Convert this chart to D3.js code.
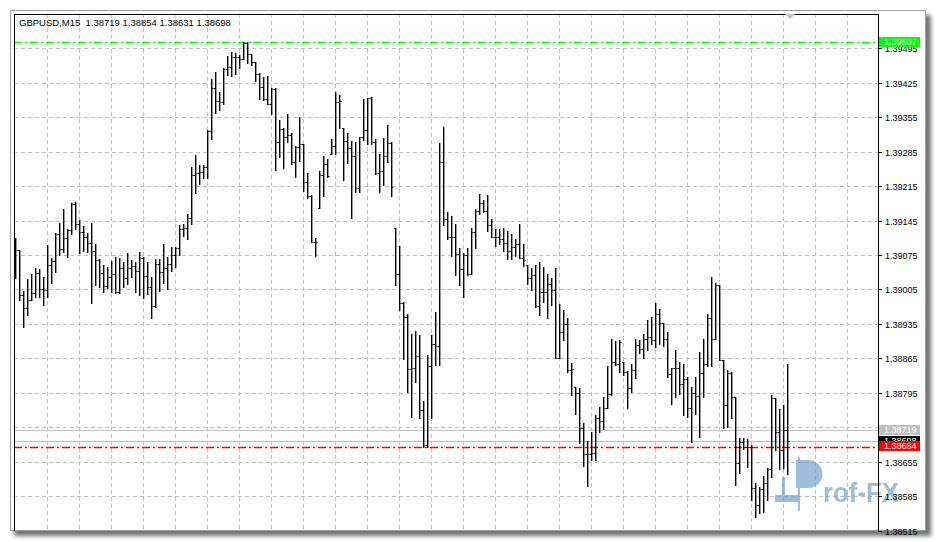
<!DOCTYPE html>
<html><head><meta charset="utf-8">
<script src="https://cdn.jsdelivr.net/npm/d3@7"></script>
<style>body{margin:0;background:#fff;}svg{display:block}text{white-space:pre}</style>
</head><body><svg id="c" width="937" height="542"></svg>
<script>
const titleText = "GBPUSD,M15  1.38719 1.38854 1.38631 1.38698";
const tickValues = [1.38515,1.38585,1.38655,1.38725,1.38795,1.38865,1.38935,1.39005,1.39075,1.39145,1.39215,1.39285,1.39355,1.39425,1.39495];
const levelHigh = 1.39507, levelAsk = 1.38719, levelBid = 1.38698, levelRed = 1.38684;

const open = [1.39050,1.39085,1.38994,1.38967,1.38983,1.38998,1.39038,1.39006,1.39004,1.39055,
1.39063,1.39118,1.39087,1.39109,1.39126,1.39179,1.39138,1.39122,1.39111,1.39099,
1.39083,1.39065,1.39038,1.39012,1.39030,1.39036,1.39000,1.39048,1.39028,1.39048,
1.39052,1.39042,1.39069,1.39032,1.39010,1.38971,1.39057,1.39040,1.39048,1.39057,
1.39075,1.39089,1.39128,1.39130,1.39150,1.39237,1.39241,1.39243,1.39254,1.39327,
1.39414,1.39388,1.39386,1.39453,1.39457,1.39477,1.39477,1.39473,1.39505,1.39483,
1.39467,1.39443,1.39416,1.39392,1.39382,1.39412,1.39305,1.39331,1.39315,1.39319,
1.39264,1.39294,1.39300,1.39223,1.39195,1.39101,1.39170,1.39237,1.39260,1.39280,
1.39296,1.39386,1.39333,1.39307,1.39292,1.39276,1.39211,1.39315,1.39329,1.39394,
1.39305,1.39241,1.39246,1.39276,1.39302,1.39130,1.39036,1.38977,1.38949,1.38843,
1.38845,1.38870,1.38760,1.38689,1.38849,1.38894,1.38890,1.39264,1.39148,1.39111,
1.39111,1.39077,1.39046,1.39075,1.39036,1.39122,1.39164,1.39181,1.39164,1.39136,
1.39111,1.39111,1.39107,1.39099,1.39083,1.39091,1.39097,1.39069,1.39055,1.39028,
1.39034,1.38971,1.39000,1.39000,1.39016,1.39004,1.38866,1.38918,1.38935,1.38841,
1.38807,1.38794,1.38723,1.38671,1.38671,1.38673,1.38744,1.38738,1.38764,1.38792,
1.38857,1.38853,1.38857,1.38837,1.38805,1.38841,1.38892,1.38884,1.38904,1.38908,
1.38902,1.38955,1.38937,1.38904,1.38833,1.38845,1.38845,1.38813,1.38823,1.38764,
1.38794,1.38788,1.38835,1.38853,1.38947,1.38904,1.39014,1.38861,1.38770,1.38835,
1.38786,1.38652,1.38695,1.38685,1.38685,1.38601,1.38567,1.38599,1.38612,1.38640,
1.38784,1.38715,1.38679,1.38719];

const high = [1.39109,1.39085,1.39002,1.39026,1.39036,1.39048,1.39046,1.39030,1.39095,1.39069,
1.39120,1.39140,1.39168,1.39128,1.39181,1.39183,1.39146,1.39134,1.39120,1.39140,
1.39097,1.39067,1.39055,1.39050,1.39063,1.39071,1.39069,1.39061,1.39079,1.39065,
1.39061,1.39081,1.39071,1.39061,1.39030,1.39067,1.39067,1.39097,1.39071,1.39091,
1.39091,1.39136,1.39138,1.39158,1.39254,1.39278,1.39258,1.39258,1.39329,1.39432,
1.39447,1.39406,1.39455,1.39479,1.39487,1.39485,1.39481,1.39507,1.39507,1.39483,
1.39467,1.39445,1.39437,1.39439,1.39414,1.39414,1.39349,1.39333,1.39361,1.39323,
1.39296,1.39355,1.39300,1.39241,1.39197,1.39109,1.39246,1.39276,1.39270,1.39311,
1.39406,1.39400,1.39333,1.39323,1.39307,1.39305,1.39315,1.39392,1.39394,1.39396,
1.39311,1.39280,1.39313,1.39339,1.39305,1.39130,1.39093,1.38979,1.38955,1.38914,
1.38920,1.38912,1.38778,1.38872,1.38912,1.38959,1.39302,1.39335,1.39162,1.39154,
1.39138,1.39089,1.39079,1.39089,1.39130,1.39168,1.39199,1.39187,1.39197,1.39148,
1.39128,1.39128,1.39130,1.39124,1.39118,1.39107,1.39138,1.39097,1.39055,1.39048,
1.39055,1.39061,1.39050,1.39036,1.39028,1.39048,1.38975,1.38963,1.38947,1.38855,
1.38807,1.38805,1.38734,1.38697,1.38715,1.38750,1.38766,1.38786,1.38849,1.38904,
1.38900,1.38902,1.38857,1.38839,1.38853,1.38904,1.38902,1.38914,1.38943,1.38949,
1.38977,1.38965,1.38937,1.38918,1.38845,1.38882,1.38857,1.38853,1.38827,1.38807,
1.38827,1.38878,1.38904,1.38955,1.39030,1.39018,1.39014,1.38861,1.38841,1.38837,
1.38786,1.38703,1.38703,1.38701,1.38689,1.38612,1.38603,1.38626,1.38642,1.38790,
1.38784,1.38762,1.38770,1.38854];

const low = [1.39028,1.38983,1.38929,1.38953,1.38983,1.38990,1.38990,1.38973,1.38990,1.39018,
1.39040,1.39075,1.39081,1.39071,1.39118,1.39128,1.39079,1.39083,1.39081,1.38977,
1.39014,1.39010,1.39000,1.39008,1.39000,1.38998,1.38998,1.39010,1.39016,1.39030,
1.39000,1.38994,1.38987,1.38996,1.38947,1.38970,1.39002,1.39018,1.39006,1.39042,
1.39050,1.39075,1.39113,1.39107,1.39138,1.39201,1.39219,1.39231,1.39231,1.39311,
1.39363,1.39369,1.39382,1.39441,1.39439,1.39443,1.39455,1.39473,1.39465,1.39461,
1.39428,1.39392,1.39390,1.39382,1.39361,1.39248,1.39274,1.39252,1.39305,1.39260,
1.39233,1.39266,1.39205,1.39191,1.39101,1.39073,1.39170,1.39195,1.39233,1.39280,
1.39280,1.39333,1.39227,1.39262,1.39150,1.39203,1.39203,1.39309,1.39300,1.39300,
1.39239,1.39203,1.39217,1.39264,1.39195,1.39014,1.38963,1.38864,1.38797,1.38746,
1.38817,1.38744,1.38685,1.38685,1.38744,1.38851,1.38851,1.39136,1.39107,1.39073,
1.39034,1.39014,1.38990,1.39034,1.39036,1.39089,1.39158,1.39162,1.39124,1.39111,
1.39093,1.39097,1.39083,1.39067,1.39067,1.39073,1.39069,1.39052,1.39016,1.39004,
1.38969,1.38953,1.38979,1.38947,1.38973,1.38866,1.38866,1.38902,1.38837,1.38790,
1.38752,1.38693,1.38646,1.38605,1.38658,1.38658,1.38715,1.38721,1.38764,1.38790,
1.38851,1.38837,1.38831,1.38764,1.38797,1.38825,1.38876,1.38866,1.38882,1.38894,
1.38888,1.38894,1.38890,1.38827,1.38772,1.38786,1.38792,1.38750,1.38746,1.38695,
1.38752,1.38705,1.38786,1.38849,1.38849,1.38904,1.38861,1.38723,1.38725,1.38744,
1.38608,1.38632,1.38681,1.38644,1.38577,1.38543,1.38551,1.38553,1.38577,1.38624,
1.38679,1.38640,1.38642,1.38631];

const close = [1.39085,1.38994,1.38967,1.38983,1.38998,1.39038,1.39006,1.39004,1.39055,1.39063,
1.39118,1.39087,1.39109,1.39126,1.39179,1.39138,1.39122,1.39111,1.39099,1.39083,
1.39065,1.39038,1.39012,1.39030,1.39036,1.39000,1.39048,1.39028,1.39048,1.39052,
1.39042,1.39069,1.39032,1.39010,1.38971,1.39057,1.39040,1.39048,1.39057,1.39075,
1.39089,1.39128,1.39130,1.39150,1.39237,1.39241,1.39243,1.39254,1.39327,1.39414,
1.39388,1.39386,1.39453,1.39457,1.39477,1.39477,1.39473,1.39505,1.39483,1.39467,
1.39443,1.39416,1.39392,1.39382,1.39412,1.39305,1.39331,1.39315,1.39319,1.39264,
1.39294,1.39300,1.39223,1.39195,1.39101,1.39101,1.39237,1.39260,1.39235,1.39296,
1.39386,1.39388,1.39307,1.39292,1.39276,1.39211,1.39315,1.39329,1.39394,1.39305,
1.39241,1.39246,1.39276,1.39302,1.39213,1.39036,1.38977,1.38949,1.38843,1.38845,
1.38870,1.38760,1.38689,1.38849,1.38894,1.38890,1.39264,1.39148,1.39111,1.39111,
1.39077,1.39046,1.39075,1.39036,1.39122,1.39164,1.39181,1.39164,1.39136,1.39111,
1.39111,1.39107,1.39099,1.39083,1.39091,1.39097,1.39069,1.39065,1.39028,1.39034,
1.38971,1.39000,1.39000,1.39016,1.39004,1.38866,1.38918,1.38935,1.38841,1.38843,
1.38794,1.38723,1.38671,1.38671,1.38673,1.38744,1.38738,1.38764,1.38792,1.38857,
1.38853,1.38898,1.38837,1.38805,1.38841,1.38892,1.38884,1.38904,1.38908,1.38902,
1.38955,1.38937,1.38904,1.38833,1.38845,1.38845,1.38813,1.38823,1.38764,1.38794,
1.38788,1.38835,1.38853,1.38947,1.38904,1.39014,1.38861,1.38770,1.38835,1.38786,
1.38652,1.38695,1.38685,1.38685,1.38601,1.38567,1.38599,1.38612,1.38640,1.38784,
1.38715,1.38679,1.38719,1.38698];

const W = 937, H = 542;
const plotL = 14, plotT = 14, plotR = 878, plotB = 531;
const svg = d3.select("#c");
const defs = svg.append("defs");
const f = defs.append("filter").attr("id","sh").attr("x","-5%").attr("y","-5%").attr("width","110%").attr("height","110%");
f.append("feGaussianBlur").attr("stdDeviation",2.2);

svg.append("rect").attr("width",W).attr("height",H).attr("fill","#ffffff");
svg.append("rect").attr("x",14).attr("y",15).attr("width",917).attr("height",521)
  .attr("fill","#000").attr("opacity",0.55).attr("filter","url(#sh)");
svg.append("rect").attr("x",10.5).attr("y",10.5).attr("width",915).attr("height",520)
  .attr("fill","#ffffff").attr("stroke","#a0a0a0");

const y = d3.scaleLinear().domain([1.38515,1.39495]).range([530.6,48.3]);
const x = d3.scaleLinear().domain([0,193]).range([15,787]);
const n = close.length;

const clip = defs.append("clipPath").attr("id","pc");
clip.append("rect").attr("x",plotL).attr("y",plotT).attr("width",plotR-plotL).attr("height",plotB-plotT);
const g = svg.append("g").attr("clip-path","url(#pc)");

const gridColor = "#c0c0c0";
g.selectAll("line.hg").data(tickValues).enter().append("line")
  .attr("x1",plotL).attr("x2",plotR)
  .attr("y1",d=>Math.round(y(d))+0.5).attr("y2",d=>Math.round(y(d))+0.5)
  .attr("stroke",gridColor).attr("stroke-dasharray","4,3");
const vIdx = d3.range(8, 216, 8).filter(i => x(i) < plotR - 2);
g.selectAll("line.vg").data(vIdx).enter().append("line")
  .attr("x1",d=>x(d)+0.5).attr("x2",d=>x(d)+0.5)
  .attr("y1",plotT).attr("y2",plotB)
  .attr("stroke",gridColor).attr("stroke-dasharray","4,3");

function hline(v, color, dash, w){
  const yy = Math.round(y(v)) + 0.5;
  g.append("line").attr("x1",plotL).attr("x2",plotR).attr("y1",yy).attr("y2",yy)
   .attr("stroke",color).attr("stroke-width",w||1).attr("stroke-dasharray",dash||null);
}
hline(levelAsk, "#c0c0c0");
hline(levelBid, "#c0c0c0");
hline(levelHigh, "#00ff00", "8,3,2,3", 1.4);
hline(levelRed, "#ff0000", "8,3,2,3", 1.4);

const bars = g.append("g").attr("fill","#000");
d3.range(n).forEach(i => {
  const cx = x(i);
  const yh = Math.round(y(high[i])), yl = Math.round(y(low[i]));
  bars.append("rect").attr("x",cx).attr("y",yh).attr("width",1.4).attr("height",Math.max(1,yl-yh+1));
  bars.append("rect").attr("x",cx-1).attr("y",Math.round(y(open[i]))).attr("width",1).attr("height",1);
  bars.append("rect").attr("x",cx+1.4).attr("y",Math.round(y(close[i]))).attr("width",1.2).attr("height",1);
});

const wm = svg.append("g").attr("fill","#6b9cc8").attr("opacity",0.66);
wm.append("rect").attr("x",775).attr("y",495).attr("width",24).attr("height",7);
wm.append("rect").attr("x",782).attr("y",477).attr("width",3).attr("height",20);
wm.append("rect").attr("x",798).attr("y",457).attr("width",2).attr("height",54);
wm.append("path").attr("d","M796,460 L808,460 A14.5,14 0 0 1 808,488 L796,488 Z");
wm.append("text").attr("x",823).attr("y",502).attr("font-family","Liberation Sans, Arial, sans-serif")
  .attr("font-weight","bold").attr("font-size",27).attr("textLength",76).attr("lengthAdjust","spacingAndGlyphs").text("rof-FX");

svg.append("line").attr("x1",plotL+0.5).attr("x2",plotL+0.5).attr("y1",plotT).attr("y2",plotB).attr("stroke","#000");
svg.append("line").attr("x1",plotL).attr("x2",plotR+1).attr("y1",plotT+0.5).attr("y2",plotT+0.5).attr("stroke","#000");
svg.append("line").attr("x1",plotR+0.5).attr("x2",plotR+0.5).attr("y1",plotT).attr("y2",plotB).attr("stroke","#000");

svg.append("path").attr("d","M785,14 L795,14 L790,19 Z").attr("fill","#c0c0c0");

svg.append("text").attr("x",19).attr("y",26).attr("font-family","Liberation Sans, Arial, sans-serif")
  .attr("font-size",9.5).attr("fill","#000").text(titleText);

const axisG = svg.append("g");
tickValues.forEach(t => {
  const yy = Math.round(y(t)) + 0.5;
  axisG.append("line").attr("x1",plotR).attr("x2",plotR+4).attr("y1",yy).attr("y2",yy).attr("stroke","#000");
  if (Math.abs(t - levelAsk) > 0.0001) {
    axisG.append("text").attr("x",885).attr("y",yy).attr("dy","0.36em")
      .attr("font-family","Liberation Sans, Arial, sans-serif").attr("font-size",9).attr("fill","#000")
      .text(d3.format(".5f")(t));
  }
});

function priceBox(v, bg, dy){
  const yy = Math.round(y(v)) + (dy||0);
  axisG.append("rect").attr("x",879).attr("y",yy-5).attr("width",41).attr("height",10).attr("fill",bg);
  axisG.append("text").attr("x",884).attr("y",yy).attr("dy","0.36em")
    .attr("font-family","Liberation Sans, Arial, sans-serif").attr("font-size",9).attr("fill","#fff")
    .text(d3.format(".5f")(v));
}
priceBox(levelHigh, "#00ff00");
priceBox(levelAsk, "#c0c0c0");
priceBox(levelBid, "#000000");
priceBox(levelRed, "#ff0000", -1);
</script></body></html>
